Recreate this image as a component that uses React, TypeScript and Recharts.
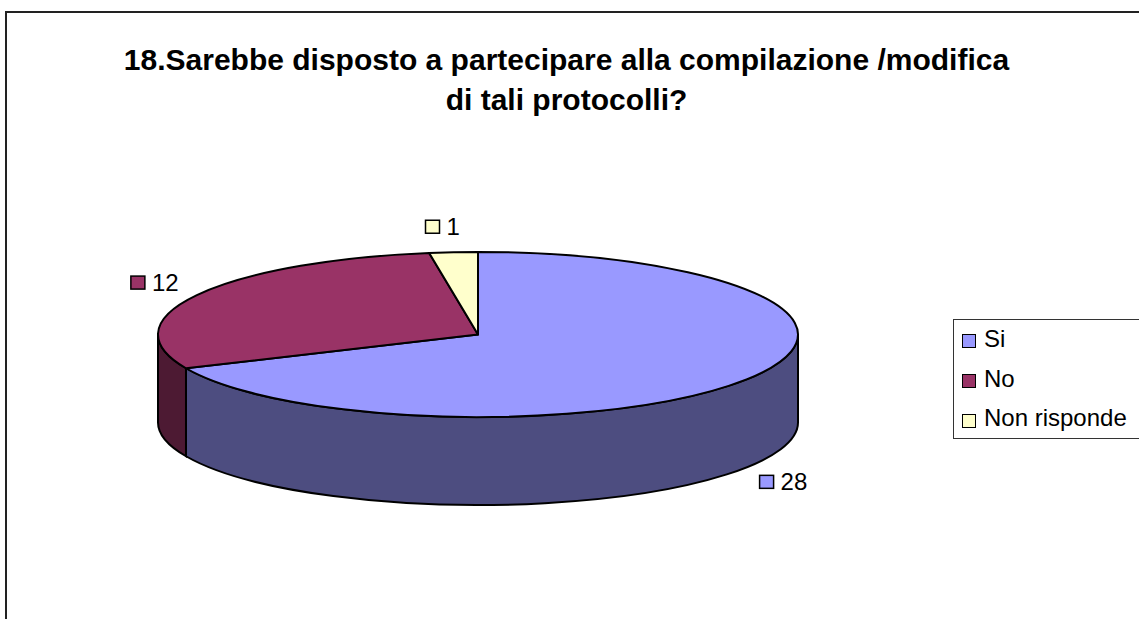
import { PieChart, Pie, Legend } from "recharts";

const categories = ["Si", "No", "Non risponde"];
const values = [28, 12, 1];
const topColors = ["#9999FF", "#993366", "#FFFFCC"];
const wallColors = ["#4D4D80", "#4D1A33", "#808066"];
const titleLines = ["18.Sarebbe disposto a partecipare alla compilazione /modifica", "di tali protocolli?"];

const tableData = categories.map((name, i) => ({ name, value: values[i], fill: topColors[i], wall: wallColors[i] }));

const font = "'Liberation Sans', Arial, sans-serif";
const RY = 82.5; // vertical radius of the flattened pie
const DEPTH = 88;
const RAD = Math.PI / 180;
// where each value label's key sits, relative to the rim point at the slice's mid angle
const labelOffsets = [
  { dx: 13, dy: 103 },
  { dx: -66, dy: -12 },
  { dx: -28, dy: -25 },
];

function rim(cx: number, cy: number, rx: number, a: number) {
  return [cx + rx * Math.cos(a * RAD), cy - RY * Math.sin(a * RAD)];
}

function Slice3D(props: any) {
  const { cx, cy, outerRadius: rx, startAngle, endAngle, fill, payload } = props;
  const [x0, y0] = rim(cx, cy, rx, startAngle);
  const [x1, y1] = rim(cx, cy, rx, endAngle);
  const large = Math.abs(startAngle - endAngle) > 180 ? 1 : 0;
  const top = `M${cx},${cy} L${x0},${y0} A${rx},${RY} 0 ${large} 1 ${x1},${y1} Z`;

  // only the part of the rim below the centre shows a side wall
  const wallStart = Math.min(startAngle, 0);
  const wallEnd = Math.max(endAngle, -180);
  let wall = null;
  if (wallStart > wallEnd) {
    const [wx0, wy0] = rim(cx, cy, rx, wallStart);
    const [wx1, wy1] = rim(cx, cy, rx, wallEnd);
    wall = (
      <path
        d={`M${wx0},${wy0} A${rx},${RY} 0 0 1 ${wx1},${wy1} L${wx1},${wy1 + DEPTH} A${rx},${RY} 0 0 0 ${wx0},${wy0 + DEPTH} Z`}
        fill={payload.wall}
        stroke="#000"
        strokeWidth={2}
      />
    );
  }
  return (
    <g>
      {wall}
      <path d={top} fill={fill} stroke="#000" strokeWidth={2} strokeLinejoin="round" />
    </g>
  );
}

function ValueLabel(props: any) {
  const { cx, cy, outerRadius, midAngle, value, index } = props;
  const [px, py] = rim(cx, cy, outerRadius, midAngle);
  const x = px + labelOffsets[index].dx;
  const y = py + labelOffsets[index].dy;
  return (
    <g>
      <rect x={x} y={y - 7} width={14} height={13} fill={topColors[index]} stroke="#000" strokeWidth={1.5} />
      <text x={x + 21} y={y + 8} fontSize={24} fontFamily={font} fill="#000">
        {value}
      </text>
    </g>
  );
}

function LegendBox({ payload }: any) {
  return (
    <div
      style={{
        width: 200,
        height: 120,
        boxSizing: "border-box",
        border: "1px solid #333",
        background: "#fff",
        fontFamily: font,
        fontSize: 24,
      }}
    >
      {(payload || []).map((entry: any) => (
        <div key={entry.value} style={{ display: "flex", alignItems: "center", height: 39.7, paddingLeft: 8 }}>
          <span
            style={{
              width: 12,
              height: 12,
              border: "1.5px solid #000",
              background: entry.color,
              marginRight: 8,
              marginTop: 3,
            }}
          />
          <span style={{ position: "relative", top: -1 }}>{entry.value}</span>
        </div>
      ))}
    </div>
  );
}

export default function App() {
  return (
    <div style={{ position: "absolute", left: 0, top: 0, width: 1139, height: 619, overflow: "hidden", background: "#fff" }}>
      <div
        style={{
          position: "absolute",
          left: 5,
          top: 11,
          width: 1300,
          height: 800,
          border: "2px solid #222",
        }}
      />
      <div
        style={{
          position: "absolute",
          left: 66,
          width: 1001,
          top: 40,
          textAlign: "center",
          fontFamily: font,
          fontWeight: "bold",
          fontSize: 30,
          lineHeight: "40px",
          color: "#000",
        }}
      >
        {titleLines.map((line) => (
          <div key={line}>{line}</div>
        ))}
      </div>
      <div style={{ position: "absolute", left: 0, top: 0 }}>
        <PieChart width={1139} height={619} margin={{ top: 0, right: 0, bottom: 0, left: 0 }}>
          <Pie
            data={tableData}
            dataKey="value"
            nameKey="name"
            cx={478}
            cy={334.5}
            innerRadius={0}
            outerRadius={320}
            startAngle={90}
            endAngle={-270}
            paddingAngle={0}
            shape={Slice3D}
            label={ValueLabel}
            labelLine={false}
            isAnimationActive={false}
          />
          <Legend
            content={<LegendBox />}
            layout="vertical"
            align="right"
            verticalAlign="middle"
            itemSorter={null}
            wrapperStyle={{ left: 953, top: 319, width: 200 }}
          />
        </PieChart>
      </div>
    </div>
  );
}
